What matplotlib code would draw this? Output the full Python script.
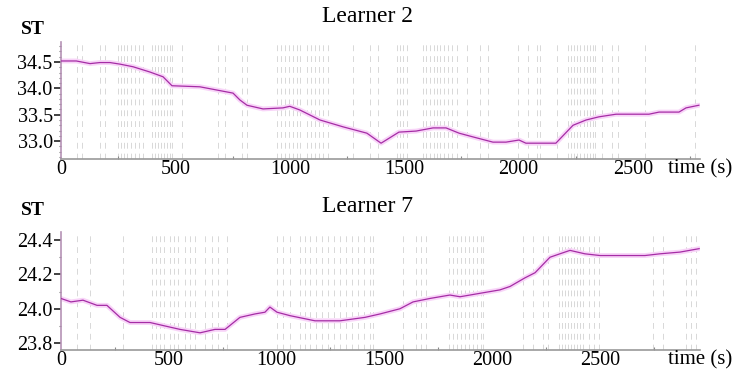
import matplotlib.pyplot as plt
from matplotlib.ticker import MultipleLocator

# Learner 2 skin temperature
t2 = [0, 67, 127, 170, 214, 258, 315, 389, 446, 485, 607, 752, 782, 813, 883, 970, 1000,
      1044, 1132, 1233, 1337, 1399, 1477, 1552, 1626, 1683, 1740, 1800, 1888, 1945, 2002,
      2032, 2163, 2238, 2295, 2351, 2426, 2570, 2614, 2701, 2732, 2788]
st2 = [34.52, 34.52, 34.47, 34.49, 34.49, 34.46, 34.41, 34.31, 34.22, 34.05, 34.03, 33.91,
       33.78, 33.68, 33.61, 33.63, 33.66, 33.59, 33.40, 33.27, 33.15, 32.96, 33.17, 33.19,
       33.25, 33.25, 33.15, 33.08, 32.98, 32.98, 33.02, 32.96, 32.96, 33.30, 33.40, 33.46,
       33.51, 33.51, 33.55, 33.55, 33.63, 33.68]
ev2 = [70, 92, 170, 192, 249, 262, 275, 288, 306, 323, 341, 358, 398, 411, 424, 437, 450,
       463, 476, 485, 529, 686, 717, 791, 813, 944, 962, 979, 997, 1014, 1031, 1045, 1075,
       1093, 1110, 1128, 1145, 1167, 1276, 1350, 1385, 1469, 1482, 1495, 1512, 1582, 1595,
       1613, 1630, 1643, 1656, 1674, 1691, 1709, 1731, 1775, 1831, 1866, 1997, 2041, 2080,
       2094, 2168, 2216, 2229, 2242, 2255, 2268, 2286, 2299, 2312, 2325, 2334, 2364, 2408,
       2434, 2552, 2771]

# Learner 7 skin temperature
t7 = [0, 46, 102, 167, 213, 274, 320, 413, 482, 552, 645, 714, 761, 830, 900, 946, 969,
      1002, 1062, 1178, 1294, 1410, 1480, 1572, 1633, 1711, 1804, 1851, 1943, 2036, 2083,
      2152, 2199, 2268, 2314, 2361, 2430, 2500, 2593, 2709, 2778, 2871, 2960]
st7 = [24.06, 24.04, 24.05, 24.02, 24.02, 23.95, 23.92, 23.92, 23.90, 23.88, 23.86, 23.88,
       23.88, 23.95, 23.97, 23.98, 24.01, 23.98, 23.96, 23.93, 23.93, 23.95, 23.97, 24.00,
       24.04, 24.06, 24.08, 24.07, 24.09, 24.11, 24.13, 24.18, 24.21, 24.30, 24.32, 24.34,
       24.32, 24.31, 24.31, 24.31, 24.32, 24.33, 24.35]
ev7 = [74, 135, 288, 422, 441, 459, 478, 506, 524, 543, 575, 598, 622, 668, 700, 728, 770,
       1002, 1030, 1062, 1109, 1132, 1155, 1183, 1211, 1239, 1266, 1294, 1322, 1350, 1378,
       1406, 1433, 1447, 1586, 1647, 1670, 1693, 1800, 1818, 1837, 1855, 1874, 1893, 1911,
       1929, 1948, 1957, 2143, 2189, 2236, 2259, 2310, 2324, 2338, 2352, 2366, 2380, 2394,
       2407, 2421, 2449, 2472, 2495, 2746, 2792, 2899, 2922, 2945]

xticks = [0, 500, 1000, 1500, 2000, 2500]

plt.rcParams['font.family'] = ['Liberation Serif', 'DejaVu Serif']

fig = plt.figure(figsize=(7.36, 3.70), dpi=100)
ax1 = fig.add_axes([61 / 736, 1 - 159 / 370, 639 / 736, 117 / 370])
ax2 = fig.add_axes([61 / 736, 1 - 350 / 370, 639 / 736, 118 / 370])

panels = [
    (ax1, t2, st2, ev2, (0, 2793), (32.66, 34.88), [33.0, 33.5, 34.0, 34.5], 'Learner 2', 159, 42),
    (ax2, t7, st7, ev7, (0, 2964), (23.76, 24.447), [23.8, 24.0, 24.2, 24.4], 'Learner 7', 350, 232),
]

for ax, t, st, ev, xl, yl, yt, title, ybot, ytop in panels:
    for e in ev:
        ax.axvline(e, color='#d2d2d2', lw=0.6, ls=(0, (7, 6)), zorder=1)
    ax.plot(t, st, color='#f8d4f8', lw=3.5, solid_capstyle='round', zorder=2)
    ax.plot(t, st, color='#a52ca5', lw=0.9, zorder=3)
    ax.set_xlim(*xl)
    ax.set_ylim(*yl)
    ax.set_xticks(xticks)
    ax.set_yticks(yt)
    ax.set_yticklabels(['%.1f' % v for v in yt])
    ax.xaxis.set_minor_locator(MultipleLocator(250))
    ax.yaxis.set_minor_locator(MultipleLocator(0.1))
    ax.tick_params(axis='y', which='major', direction='out', length=5, width=1.3,
                   color='#333333', labelsize=14.5, pad=1)
    ax.tick_params(axis='y', which='minor', direction='out', length=1.5, width=0.8,
                   color='#777777')
    ax.tick_params(axis='x', which='major', length=0, labelsize=14.5, pad=1)
    ax.tick_params(axis='x', which='minor', direction='in', length=2, width=0.8,
                   color='#888888')
    for s in ['top', 'right']:
        ax.spines[s].set_visible(False)
    ax.spines['left'].set_color('#b592b5')
    ax.spines['left'].set_linewidth(1.2)
    ax.spines['bottom'].set_color('#9a9a9a')
    ax.spines['bottom'].set_linewidth(1.2)
    fig.text(368 / 736, 1 - (ytop - 25) / 370, title, fontsize=17, ha='center', va='center')
    fig.text(668 / 736, 1 - (ybot + 10) / 370, 'time (s)', fontsize=15, va='center')

fig.text(33 / 736, 1 - 29 / 370, 'ST', fontsize=14, fontweight='bold', ha='center', va='center')
fig.text(33 / 736, 1 - 211 / 370, 'ST', fontsize=14, fontweight='bold', ha='center', va='center')

fig.savefig('out.png', dpi=100)
